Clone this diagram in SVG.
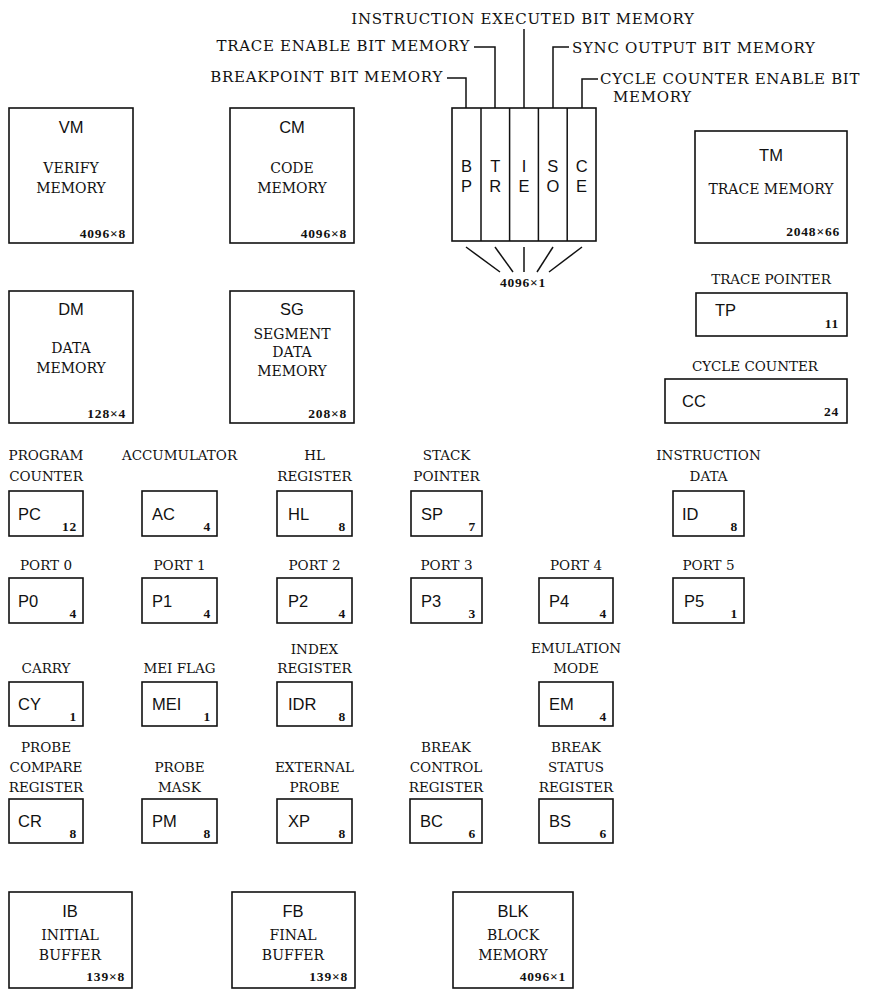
<svg xmlns="http://www.w3.org/2000/svg" width="873" height="990" viewBox="0 0 873 990">
<style>
.bg{fill:#fff}
.box{fill:none;stroke:#111;stroke-width:1.6}
.ln{fill:none;stroke:#111;stroke-width:1.5}
.top{font-family:"DejaVu Serif","Liberation Serif",serif;font-size:15px;letter-spacing:0.7px;fill:#111}
.lbl{font-family:"DejaVu Serif","Liberation Serif",serif;font-size:13.5px;fill:#111;text-anchor:middle}
.mlbl{font-family:"DejaVu Serif","Liberation Serif",serif;font-size:14px;fill:#111;text-anchor:middle}
.nm{font-family:"Liberation Sans",Arial,sans-serif;font-size:16.5px;fill:#111}
.nmc{font-family:"Liberation Sans",Arial,sans-serif;font-size:16.5px;fill:#111;text-anchor:middle}
.num{font-family:"Liberation Serif","Times New Roman",serif;font-size:13.5px;font-weight:bold;letter-spacing:0.8px;fill:#111;text-anchor:end}
</style>
<rect class="bg" x="0" y="0" width="873" height="990"/>

<g id="connectors">
  <path class="ln" d="M447,78 H466 V108"/>
  <path class="ln" d="M474,47 H495 V108"/>
  <path class="ln" d="M524,29 V108"/>
  <path class="ln" d="M569,47 H553 V108"/>
  <path class="ln" d="M598,79 H582 V108"/>
  <path class="ln" d="M466,247 L500,272"/>
  <path class="ln" d="M495,247 L513,272"/>
  <path class="ln" d="M524,247 V272"/>
  <path class="ln" d="M553,247 L537,272"/>
  <path class="ln" d="M582,247 L549,272"/>
</g>

<g id="bit-labels">
  <text class="top" x="523" y="24" text-anchor="middle">INSTRUCTION EXECUTED BIT MEMORY</text>
  <text class="top" x="470" y="51" text-anchor="end">TRACE ENABLE BIT MEMORY</text>
  <text class="top" x="443" y="82" text-anchor="end">BREAKPOINT BIT MEMORY</text>
  <text class="top" x="572" y="53">SYNC OUTPUT BIT MEMORY</text>
  <text class="top" x="600" y="84">CYCLE COUNTER ENABLE BIT</text>
  <text class="top" x="613" y="102">MEMORY</text>
</g>

<g id="bit-memory">
  <rect class="box" x="452" y="108" width="144" height="133"/>
  <path class="ln" d="M481,108 V241 M509.6,108 V241 M538.4,108 V241 M567.2,108 V241"/>
  <text class="nmc" x="466.4" y="172">B</text><text class="nmc" x="466.4" y="192">P</text>
  <text class="nmc" x="495.2" y="172">T</text><text class="nmc" x="495.2" y="192">R</text>
  <text class="nmc" x="524" y="172">I</text><text class="nmc" x="524" y="192">E</text>
  <text class="nmc" x="552.8" y="172">S</text><text class="nmc" x="552.8" y="192">O</text>
  <text class="nmc" x="581.6" y="172">C</text><text class="nmc" x="581.6" y="192">E</text>
  <text class="num" x="523" y="287" style="text-anchor:middle">4096×1</text>
</g>

<g id="VM">
  <rect class="box" x="9" y="108" width="124" height="135"/>
  <text class="nmc" x="71" y="133">VM</text>
  <text class="mlbl" x="71" y="173">VERIFY</text>
  <text class="mlbl" x="71" y="193">MEMORY</text>
  <text class="num" x="126" y="238">4096×8</text>
</g>
<g id="CM">
  <rect class="box" x="230" y="108" width="124" height="135"/>
  <text class="nmc" x="292" y="133">CM</text>
  <text class="mlbl" x="292" y="173">CODE</text>
  <text class="mlbl" x="292" y="193">MEMORY</text>
  <text class="num" x="347" y="238">4096×8</text>
</g>
<g id="DM">
  <rect class="box" x="9" y="291" width="124" height="132"/>
  <text class="nmc" x="71" y="315">DM</text>
  <text class="mlbl" x="71" y="353">DATA</text>
  <text class="mlbl" x="71" y="373">MEMORY</text>
  <text class="num" x="126" y="418">128×4</text>
</g>
<g id="SG">
  <rect class="box" x="230" y="291" width="124" height="132"/>
  <text class="nmc" x="292" y="315">SG</text>
  <text class="mlbl" x="292" y="339">SEGMENT</text>
  <text class="mlbl" x="292" y="357">DATA</text>
  <text class="mlbl" x="292" y="376">MEMORY</text>
  <text class="num" x="347" y="418">208×8</text>
</g>
<g id="TM">
  <rect class="box" x="695" y="131" width="152" height="112"/>
  <text class="nmc" x="771" y="161">TM</text>
  <text class="mlbl" x="771" y="194">TRACE MEMORY</text>
  <text class="num" x="840" y="236">2048×66</text>
</g>
<g id="TP">
  <text class="lbl" x="771" y="284">TRACE POINTER</text>
  <rect class="box" x="696" y="293" width="151" height="43"/>
  <text class="nm" x="715" y="316">TP</text>
  <text class="num" x="839" y="328">11</text>
</g>
<g id="CC">
  <text class="lbl" x="755" y="371">CYCLE COUNTER</text>
  <rect class="box" x="665" y="379" width="182" height="44"/>
  <text class="nm" x="682" y="407">CC</text>
  <text class="num" x="839" y="416">24</text>
</g>

<g id="PC">
  <text class="lbl" x="46" y="460">PROGRAM</text><text class="lbl" x="46" y="481">COUNTER</text>
  <rect class="box" x="9" y="491" width="74" height="45"/>
  <text class="nm" x="18" y="520">PC</text><text class="num" x="77" y="531">12</text>
</g>
<g id="AC">
  <text class="lbl" x="179.5" y="460">ACCUMULATOR</text>
  <rect class="box" x="142" y="491" width="75" height="45"/>
  <text class="nm" x="152" y="520">AC</text><text class="num" x="211" y="531">4</text>
</g>
<g id="HL">
  <text class="lbl" x="314.5" y="460">HL</text><text class="lbl" x="314.5" y="481">REGISTER</text>
  <rect class="box" x="277" y="491" width="75" height="45"/>
  <text class="nm" x="288" y="520">HL</text><text class="num" x="346" y="531">8</text>
</g>
<g id="SP">
  <text class="lbl" x="446.5" y="460">STACK</text><text class="lbl" x="446.5" y="481">POINTER</text>
  <rect class="box" x="411" y="491" width="71" height="45"/>
  <text class="nm" x="421" y="520">SP</text><text class="num" x="476" y="531">7</text>
</g>
<g id="ID">
  <text class="lbl" x="708.5" y="460">INSTRUCTION</text><text class="lbl" x="708.5" y="481">DATA</text>
  <rect class="box" x="673" y="491" width="71" height="45"/>
  <text class="nm" x="682" y="520">ID</text><text class="num" x="738" y="531">8</text>
</g>

<g id="P0">
  <text class="lbl" x="46" y="570">PORT 0</text>
  <rect class="box" x="9" y="578" width="74" height="45"/>
  <text class="nm" x="18" y="607">P0</text><text class="num" x="77" y="618">4</text>
</g>
<g id="P1">
  <text class="lbl" x="179.5" y="570">PORT 1</text>
  <rect class="box" x="142" y="578" width="75" height="45"/>
  <text class="nm" x="152" y="607">P1</text><text class="num" x="211" y="618">4</text>
</g>
<g id="P2">
  <text class="lbl" x="314.5" y="570">PORT 2</text>
  <rect class="box" x="277" y="578" width="75" height="45"/>
  <text class="nm" x="288" y="607">P2</text><text class="num" x="346" y="618">4</text>
</g>
<g id="P3">
  <text class="lbl" x="446.5" y="570">PORT 3</text>
  <rect class="box" x="411" y="578" width="71" height="45"/>
  <text class="nm" x="421" y="607">P3</text><text class="num" x="476" y="618">3</text>
</g>
<g id="P4">
  <text class="lbl" x="576" y="570">PORT 4</text>
  <rect class="box" x="539" y="578" width="74" height="45"/>
  <text class="nm" x="549" y="607">P4</text><text class="num" x="607" y="618">4</text>
</g>
<g id="P5">
  <text class="lbl" x="708.5" y="570">PORT 5</text>
  <rect class="box" x="673" y="578" width="71" height="45"/>
  <text class="nm" x="684" y="607">P5</text><text class="num" x="738" y="618">1</text>
</g>

<g id="CY">
  <text class="lbl" x="46" y="673">CARRY</text>
  <rect class="box" x="9" y="682" width="74" height="44"/>
  <text class="nm" x="18" y="710">CY</text><text class="num" x="77" y="721">1</text>
</g>
<g id="MEI">
  <text class="lbl" x="179.5" y="673">MEI FLAG</text>
  <rect class="box" x="142" y="682" width="75" height="44"/>
  <text class="nm" x="152" y="710">MEI</text><text class="num" x="211" y="721">1</text>
</g>
<g id="IDR">
  <text class="lbl" x="314.5" y="654">INDEX</text><text class="lbl" x="314.5" y="673">REGISTER</text>
  <rect class="box" x="277" y="682" width="75" height="44"/>
  <text class="nm" x="288" y="710">IDR</text><text class="num" x="346" y="721">8</text>
</g>
<g id="EM">
  <text class="lbl" x="576" y="653">EMULATION</text><text class="lbl" x="576" y="673">MODE</text>
  <rect class="box" x="539" y="682" width="74" height="44"/>
  <text class="nm" x="549" y="710">EM</text><text class="num" x="607" y="721">4</text>
</g>

<g id="CR">
  <text class="lbl" x="46" y="752">PROBE</text><text class="lbl" x="46" y="772">COMPARE</text><text class="lbl" x="46" y="792">REGISTER</text>
  <rect class="box" x="9" y="799" width="74" height="44"/>
  <text class="nm" x="18" y="827">CR</text><text class="num" x="77" y="838">8</text>
</g>
<g id="PM">
  <text class="lbl" x="179.5" y="772">PROBE</text><text class="lbl" x="179.5" y="792">MASK</text>
  <rect class="box" x="142" y="799" width="75" height="44"/>
  <text class="nm" x="152" y="827">PM</text><text class="num" x="211" y="838">8</text>
</g>
<g id="XP">
  <text class="lbl" x="314.5" y="772">EXTERNAL</text><text class="lbl" x="314.5" y="792">PROBE</text>
  <rect class="box" x="277" y="799" width="75" height="44"/>
  <text class="nm" x="288" y="827">XP</text><text class="num" x="346" y="838">8</text>
</g>
<g id="BC">
  <text class="lbl" x="446" y="752">BREAK</text><text class="lbl" x="446" y="772">CONTROL</text><text class="lbl" x="446" y="792">REGISTER</text>
  <rect class="box" x="410" y="799" width="72" height="44"/>
  <text class="nm" x="420" y="827">BC</text><text class="num" x="476" y="838">6</text>
</g>
<g id="BS">
  <text class="lbl" x="576" y="752">BREAK</text><text class="lbl" x="576" y="772">STATUS</text><text class="lbl" x="576" y="792">REGISTER</text>
  <rect class="box" x="539" y="799" width="74" height="44"/>
  <text class="nm" x="549" y="827">BS</text><text class="num" x="607" y="838">6</text>
</g>

<g id="IB">
  <rect class="box" x="9" y="892" width="123" height="96"/>
  <text class="nmc" x="70" y="917">IB</text>
  <text class="mlbl" x="70" y="940">INITIAL</text>
  <text class="mlbl" x="70" y="960">BUFFER</text>
  <text class="num" x="125" y="981">139×8</text>
</g>
<g id="FB">
  <rect class="box" x="232" y="892" width="123" height="96"/>
  <text class="nmc" x="293" y="917">FB</text>
  <text class="mlbl" x="293" y="940">FINAL</text>
  <text class="mlbl" x="293" y="960">BUFFER</text>
  <text class="num" x="348" y="981">139×8</text>
</g>
<g id="BLK">
  <rect class="box" x="453" y="892" width="120" height="96"/>
  <text class="nmc" x="513" y="917">BLK</text>
  <text class="mlbl" x="513" y="940">BLOCK</text>
  <text class="mlbl" x="513" y="960">MEMORY</text>
  <text class="num" x="566" y="981">4096×1</text>
</g>
</svg>
